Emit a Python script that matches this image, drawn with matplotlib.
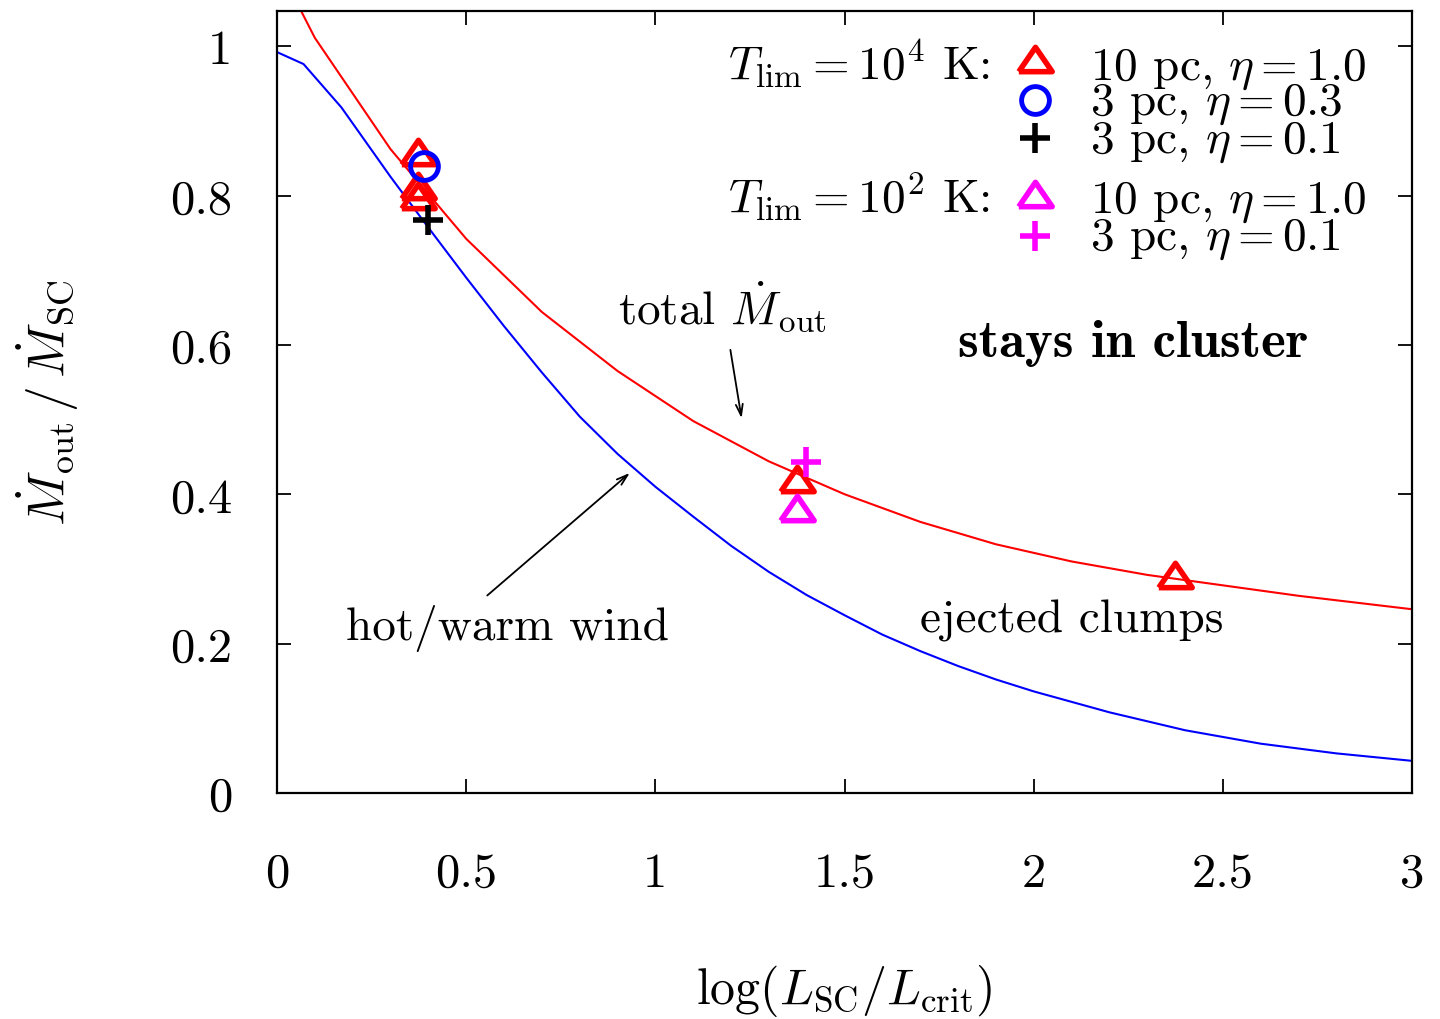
import matplotlib
matplotlib.use('Agg')
import matplotlib.pyplot as plt
from matplotlib.ticker import FormatStrFormatter

plt.rcParams['font.family'] = 'cmr10'
plt.rcParams['mathtext.fontset'] = 'cm'
plt.rcParams['axes.formatter.use_mathtext'] = True

# total mass outflow (red) and hot/warm wind only (blue)
x_total = [0, 0.1, 0.3, 0.5, 0.7, 0.9, 1.1, 1.3, 1.5, 1.7, 1.9, 2.1, 2.3, 2.5, 2.7, 2.9, 3.0]
y_total = [1.11, 1.011, 0.862, 0.742, 0.644, 0.565, 0.498, 0.444, 0.400, 0.363, 0.333,
           0.310, 0.292, 0.278, 0.264, 0.252, 0.246]
x_wind = [0, 0.07, 0.17, 0.3, 0.4, 0.5, 0.6, 0.7, 0.8, 0.9, 1.0, 1.1, 1.2, 1.3, 1.4,
          1.5, 1.6, 1.7, 1.8, 1.9, 2.0, 2.2, 2.4, 2.6, 2.8, 3.0]
y_wind = [0.992, 0.976, 0.918, 0.825, 0.757, 0.690, 0.625, 0.563, 0.504, 0.454, 0.410,
          0.370, 0.331, 0.296, 0.265, 0.238, 0.212, 0.190, 0.170, 0.152, 0.136, 0.108,
          0.084, 0.066, 0.053, 0.043]

# simulations, T_lim = 1e4 K
t4_10pc_x = [0.373, 0.373, 0.373, 1.375, 2.374]
t4_10pc_y = [0.858, 0.813, 0.799, 0.420, 0.292]
t4_3pc03_x = [0.389]
t4_3pc03_y = [0.839]
t4_3pc01_x = [0.399]
t4_3pc01_y = [0.767]
# simulations, T_lim = 1e2 K
t2_10pc_x = [1.375]
t2_10pc_y = [0.382]
t2_3pc01_x = [1.398]
t2_3pc01_y = [0.443]

xticks = [0, 0.5, 1, 1.5, 2, 2.5, 3]
yticks = [0, 0.2, 0.4, 0.6, 0.8, 1]

# flat open triangle like gnuplot's
tri = [(-1, -0.73), (1, -0.73), (0, 0.73), (-1, -0.73)]
tri_kw = dict(marker=tri, ms=24, mew=4, mfc='none', ls='none')
circ_kw = dict(marker='o', ms=20, mew=3.5, mfc='none', ls='none')
plus_kw = dict(marker='+', ms=21, mew=4, ls='none')

fig = plt.figure(figsize=(14.4, 10.2), dpi=100)
ax = fig.add_axes([0.1924, 0.2216, 0.7882, 0.7666])

ax.plot(x_total, y_total, color='#ff0000', lw=1.5)
ax.plot(x_wind, y_wind, color='#0000ff', lw=1.5)

ax.plot(t4_10pc_x, t4_10pc_y, color='#ff0000', **tri_kw)
ax.plot(t4_3pc03_x, t4_3pc03_y, color='#0000ff', **circ_kw)
ax.plot(t4_3pc01_x, t4_3pc01_y, color='black', **plus_kw)
ax.plot(t2_10pc_x, t2_10pc_y, color='#ff00ff', **tri_kw)
ax.plot(t2_3pc01_x, t2_3pc01_y, color='#ff00ff', **plus_kw)

ax.set_xlim(0, 3)
ax.set_ylim(0, 1.047)
ax.set_xticks(xticks)
ax.set_yticks(yticks)
ax.xaxis.set_major_formatter(FormatStrFormatter('%g'))
ax.yaxis.set_major_formatter(FormatStrFormatter('%g'))
ax.tick_params(direction='in', length=10, width=1.3, top=True, right=True, labelsize=35)
ax.tick_params(axis='x', pad=42)
ax.tick_params(axis='y', pad=32)
for s in ax.spines.values():
    s.set_linewidth(1.6)

fs = 34
ax.set_xlabel(r'$\log(L_{\rm SC}/L_{\rm crit})$', fontsize=36, labelpad=48)
ax.set_ylabel(r'$\dot{M}_{\rm out}\,/\,\dot{M}_{\rm SC}$', fontsize=37, labelpad=64)

# key, drawn by hand so the group titles sit left of the symbols
mx, tx, gx = 0.668, 0.716, 0.628
rows = [
    (0.939, 0.913, dict(color='#ff0000', **tri_kw), r'10 pc, $\eta = 1.0$'),
    (0.886, 0.868, dict(color='#0000ff', **circ_kw), r'3 pc, $\eta = 0.3$'),
    (0.838, 0.820, dict(color='black', **plus_kw), r'3 pc, $\eta = 0.1$'),
    (0.766, 0.743, dict(color='#ff00ff', **tri_kw), r'10 pc, $\eta = 1.0$'),
    (0.712, 0.696, dict(color='#ff00ff', **plus_kw), r'3 pc, $\eta = 0.1$'),
]
for my, ty, kw, lab in rows:
    ax.plot([mx], [my], transform=ax.transAxes, clip_on=False, **kw)
    ax.text(tx, ty, lab, transform=ax.transAxes, fontsize=fs, va='baseline')
ax.text(gx, 0.913, r'$T_{\rm lim} = 10^4$ K:', transform=ax.transAxes,
        fontsize=fs, ha='right', va='baseline')
ax.text(gx, 0.743, r'$T_{\rm lim} = 10^2$ K:', transform=ax.transAxes,
        fontsize=fs, ha='right', va='baseline')

# labels and arrows
ax.text(0.901, 0.628, r'total $\dot{M}_{\rm out}$', fontsize=fs, va='baseline')
ax.annotate('', xy=(1.229, 0.498), xytext=(1.197, 0.597),
            arrowprops=dict(arrowstyle='->,head_length=0.8,head_width=0.25', lw=1.3, color='black'))
ax.text(0.182, 0.206, 'hot/warm wind', fontsize=fs, va='baseline')
ax.annotate('', xy=(0.938, 0.431), xytext=(0.550, 0.262),
            arrowprops=dict(arrowstyle='->,head_length=0.8,head_width=0.25', lw=1.3, color='black'))
ax.text(1.700, 0.216, 'ejected clumps', fontsize=fs, va='baseline')
ax.text(1.800, 0.585, 'stays in cluster', fontsize=38, va='baseline', family='cmb10')

fig.savefig('out.png', dpi=100)
